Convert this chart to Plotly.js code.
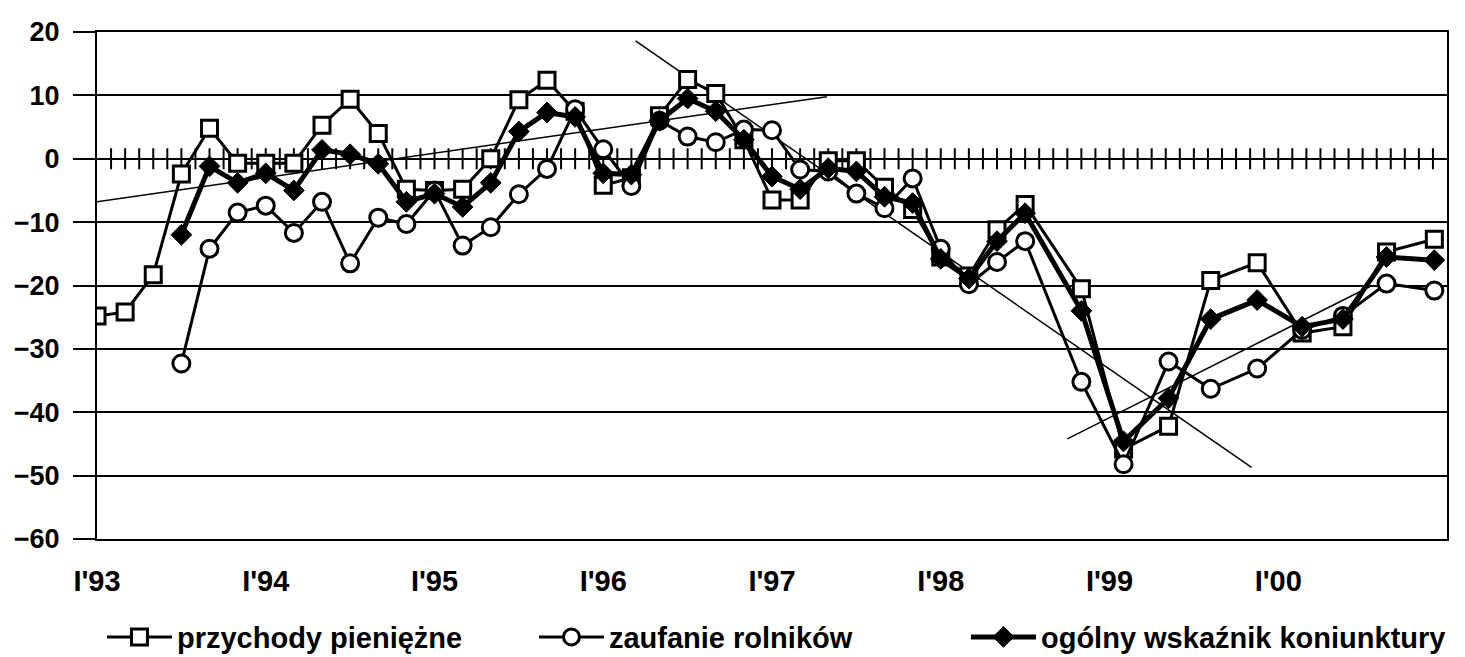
<!DOCTYPE html>
<html>
<head>
<meta charset="utf-8">
<script src="https://cdn.plot.ly/plotly-3.0.1.min.js"></script>
<style>
html,body{margin:0;padding:0;background:#fff;}
#chart{width:1465px;height:657px;}
</style>
</head>
<body>
<div id="chart"></div>
<script>
// x: months counted from January 1993 (bimonthly until mid-1998, then quarterly)
const months = [0,2,4,6,8,10,12,14,16,18,20,22,24,26,28,30,32,34,36,38,40,42,44,46,48,50,52,54,56,58,60,62,64,66,70,73,76.2,79.2,82.5,85.7,88.6,91.7,95.1];

const przychody = [-24.8,-24.2,-18.3,-2.4,4.8,-0.7,-0.7,-0.7,5.3,9.4,4.0,-4.8,-5.0,-4.8,0.0,9.3,12.4,7.5,-4.2,-3.0,6.8,12.5,10.3,3.0,-6.5,-6.5,-0.3,-0.3,-4.5,-8.0,-15.5,-18.5,-11.2,-7.2,-20.5,-45.8,-42.2,-19.2,-16.4,-27.5,-26.5,-14.7,-12.7];

const zaufanie = [null,null,null,-32.3,-14.2,-8.5,-7.4,-11.7,-6.8,-16.5,-9.3,-10.3,-5.0,-13.7,-10.8,-5.6,-1.6,7.8,1.5,-4.3,6.0,3.5,2.6,4.6,4.5,-1.7,-2.0,-5.5,-7.8,-3.1,-14.2,-19.8,-16.3,-13.0,-35.2,-48.2,-32.0,-36.3,-33.1,-27.0,-24.8,-19.7,-20.8];

const ogolny = [null,null,null,-12.0,-1.2,-3.8,-2.3,-5.0,1.4,0.7,-0.8,-6.8,-5.5,-7.6,-3.8,4.3,7.3,6.6,-2.3,-2.5,6.0,9.5,7.5,3.0,-2.8,-4.8,-1.5,-2.0,-6.0,-7.0,-15.8,-18.9,-13.0,-8.6,-24.0,-44.6,-37.8,-25.3,-22.3,-26.5,-25.3,-15.5,-16.0];

const seriesNames = ["przychody pieniężne","zaufanie rolników","ogólny wskaźnik koniunktury"];

// hand-drawn trend lines (start / end)
const trend1X = [0, 51.9],  trend1Y = [-6.8, 9.8];
const trend2X = [38.3, 82.1], trend2Y = [18.6, -48.7];
const trend3X = [69.0, 90.5], trend3Y = [-44.2, -20.2];

const tickLabels = ["I'93","I'94","I'95","I'96","I'97","I'98","I'99","I'00"];
const tickMonths = [0,12,24,36,48,60,72,84];

// monthly tick marks drawn across the zero line
const minorMonths = [];
for (let m = 1; m <= 95; m++) minorMonths.push(m);
const minorZeros = minorMonths.map(() => 0);

const font = "Arial, 'Liberation Sans', sans-serif";

const traces = [
  {x: minorMonths, y: minorZeros, mode: 'markers', showlegend: false, hoverinfo: 'skip',
   marker: {symbol: 'line-ns', size: 15, line: {color: '#000', width: 2}}},
  {x: trend1X, y: trend1Y, mode: 'lines', showlegend: false, line: {color: '#000', width: 1.5}},
  {x: trend2X, y: trend2Y, mode: 'lines', showlegend: false, line: {color: '#000', width: 1.5}},
  {x: trend3X, y: trend3Y, mode: 'lines', showlegend: false, line: {color: '#000', width: 1.5}},
  {x: months, y: przychody, name: seriesNames[0], mode: 'lines+markers', legendwidth: 352,
   line: {color: '#000', width: 3},
   marker: {symbol: 'square', size: 16, color: '#fff', line: {color: '#000', width: 3}}},
  {x: months, y: zaufanie, name: seriesNames[1], mode: 'lines+markers', legendwidth: 352,
   line: {color: '#000', width: 3},
   marker: {symbol: 'circle', size: 17, color: '#fff', line: {color: '#000', width: 3}}},
  {x: months, y: ogolny, name: seriesNames[2], mode: 'lines+markers', legendwidth: 408,
   line: {color: '#000', width: 5},
   marker: {symbol: 'diamond', size: 16, color: '#000', line: {color: '#000', width: 1}}}
];

const layout = {
  width: 1465, height: 657,
  margin: {l: 97, r: 18, t: 32, b: 118},
  paper_bgcolor: '#fff', plot_bgcolor: '#fff',
  font: {family: font, color: '#000', size: 28, weight: 'bold'},
  showlegend: true,
  legend: {orientation: 'h', xref: 'container', yref: 'container',
           x: 0.0696, xanchor: 'left', y: 0.0304, yanchor: 'middle',
           font: {size: 29, family: font, weight: 'bold'},
           itemwidth: 65,
           bgcolor: 'rgba(0,0,0,0)'},
  xaxis: {range: [0, 96], tickvals: tickMonths, ticktext: tickLabels,
          showgrid: false, zeroline: false, showline: true, linecolor: '#000', linewidth: 2,
          mirror: true, ticks: '', ticklabelstandoff: 15,
          tickfont: {size: 29, family: font, weight: 'bold'}},
  yaxis: {range: [-60, 20], dtick: 10, tick0: 0,
          showgrid: true, gridcolor: '#000', gridwidth: 2,
          zeroline: true, zerolinecolor: '#000', zerolinewidth: 2,
          showline: true, linecolor: '#000', linewidth: 2, mirror: true,
          ticks: 'outside', ticklen: 22, tickwidth: 2, tickcolor: '#000',
          ticklabelstandoff: 8,
          tickfont: {size: 27, family: font, weight: 'bold'}}
};

Plotly.newPlot('chart', traces, layout, {displayModeBar: false, staticPlot: true});
</script>
</body>
</html>
